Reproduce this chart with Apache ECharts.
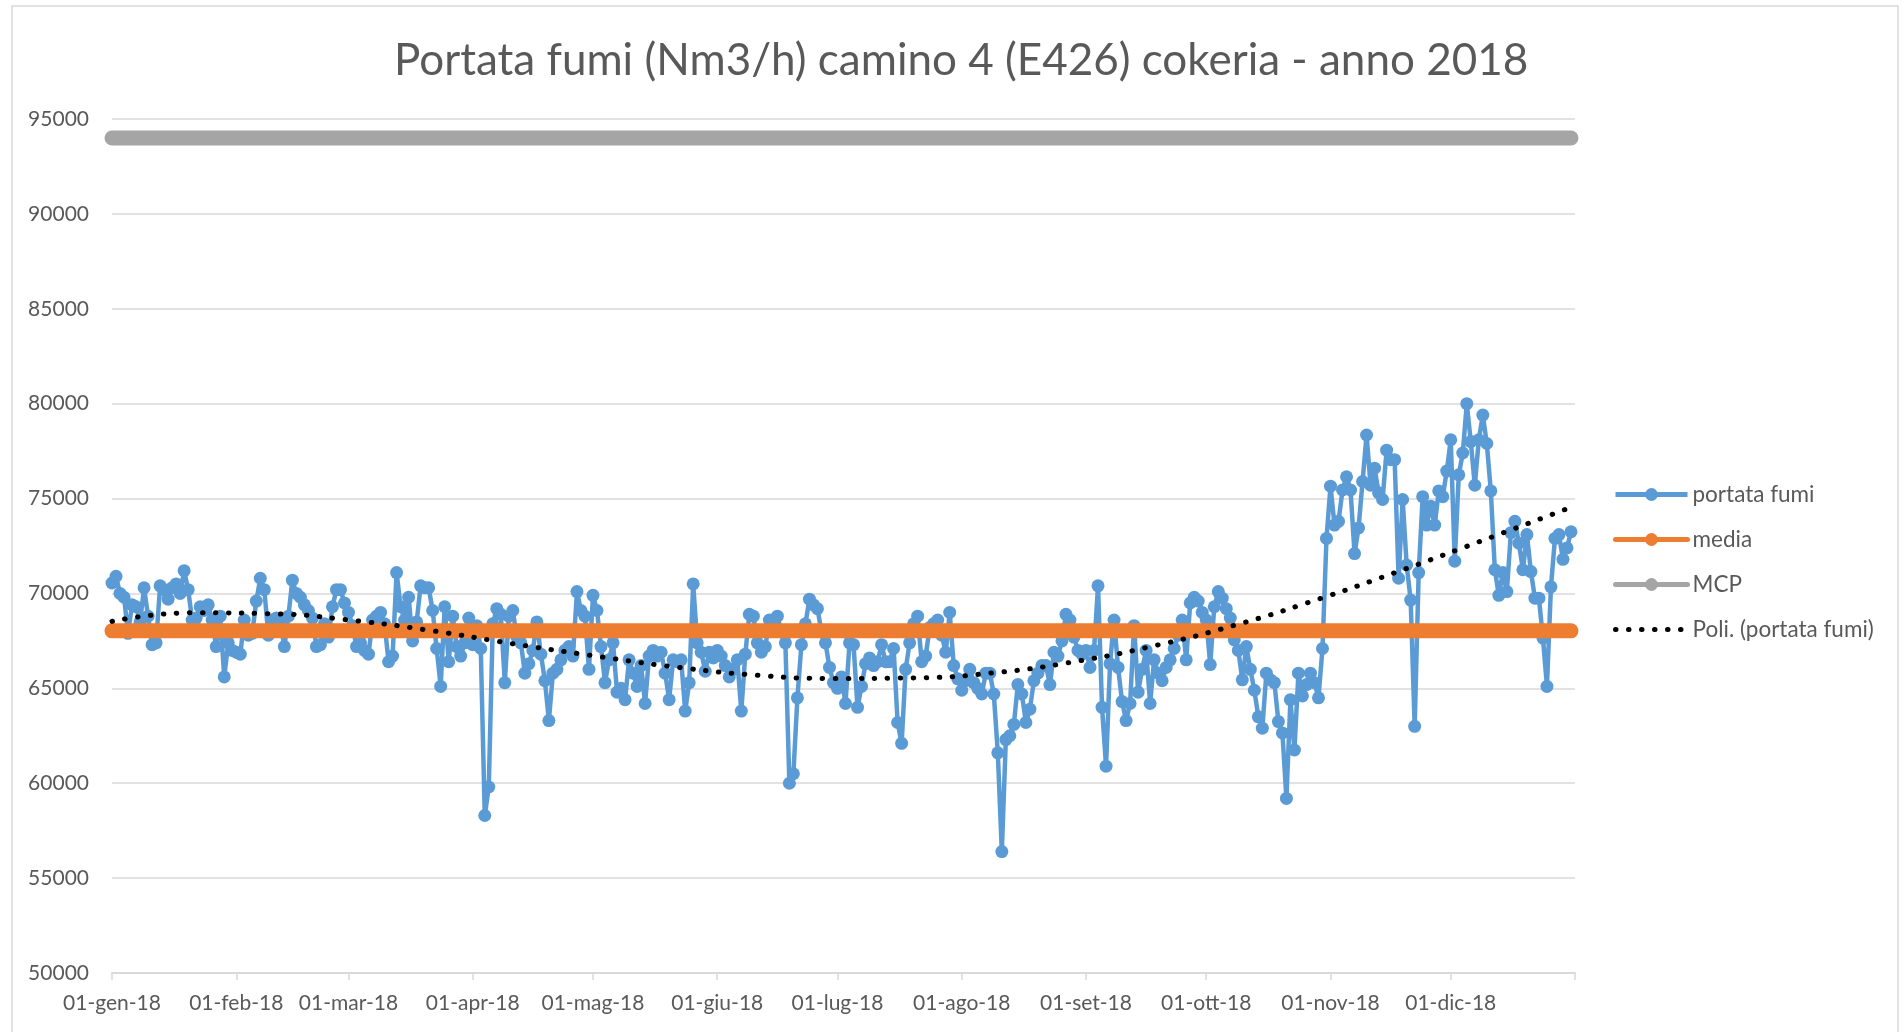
<!DOCTYPE html>
<html>
<head>
<meta charset="utf-8">
<title>Portata fumi camino 4 (E426) cokeria - anno 2018</title>
<script src="https://cdn.jsdelivr.net/npm/echarts@6/dist/echarts.min.js"></script>
<style>
  html, body { margin: 0; padding: 0; background: #fff; }
  #chart { width: 1904px; height: 1032px; }
</style>
</head>
<body>
<div id="chart"></div>
<script>
// mesi per le etichette dell'asse x
const mesi = ['gen', 'feb', 'mar', 'apr', 'mag', 'giu', 'lug', 'ago', 'set', 'ott', 'nov', 'dic']
const giorniMese = [31, 28, 31, 30, 31, 30, 31, 31, 30, 31, 30, 31]

// portata fumi giornaliera (Nm3/h)
const portataGen = [70550, 70900, 70000, 69800, 67900, 69400, 69300, 68500, 70300, 68800, 67300, 67400, 70400, 70200, 69700, 70300, 70500, 70000, 71200, 70200, 68600, 68700, 69300, 69100, 69400, 68600, 67200, 68800, 65600, 67400, 67000]
const portataFeb = [66900, 66800, 68600, 67800, 67900, 69600, 70800, 70200, 67800, 68600, 68700, 68500, 67200, 68800, 70700, 70000, 69800, 69400, 69100, 68700, 67200, 67300, 68400, 67700, 69300, 70200, 70200, 69500]
const portataMar = [69000, 68300, 67200, 67400, 67000, 66800, 68600, 68800, 69000, 68400, 66400, 66700, 71100, 69300, 68600, 69800, 67500, 68500, 70400, 70300, 70300, 69100, 67100, 65100, 69300, 66400, 68800, 67200, 66700, 67400, 68700]
const portataApr = [67300, 68300, 67100, 58300, 59800, 68400, 69200, 68900, 65300, 68800, 69100, 67700, 67400, 65800, 66300, 67000, 68500, 66800, 65400, 63300, 65800, 66000, 66500, 67000, 67200, 66700, 70100, 69100, 68800, 66000]
const portataMag = [69900, 69100, 67200, 65300, 66500, 67400, 64800, 65000, 64400, 66500, 65800, 65100, 66200, 64200, 66700, 67000, 66700, 66900, 65800, 64400, 66500, 66400, 66500, 63800, 65300, 70500, 67400, 66900, 65900, 66900, 66600]
const portataGiu = [67000, 66700, 66200, 65600, 66000, 66500, 63800, 66800, 68900, 68800, 67400, 66900, 67200, 68600, 68400, 68800, 68000, 67400, 60000, 60500, 64500, 67300, 68400, 69700, 69400, 69200, 68000, 67400, 66100, 65300]
const portataLug = [65000, 65600, 64200, 67400, 67300, 64000, 65100, 66300, 66600, 66200, 66400, 67300, 66400, 66400, 67100, 63200, 62100, 66000, 67400, 68400, 68800, 66400, 66700, 68200, 68400, 68600, 67800, 66900, 69000, 66200, 65500]
const portataAgo = [64900, 65400, 66000, 65300, 65000, 64700, 65800, 65800, 64700, 61600, 56400, 62300, 62500, 63100, 65200, 64700, 63200, 63900, 65400, 65800, 66200, 66200, 65200, 66900, 66700, 67500, 68900, 68600, 67700, 67000, 66800]
const portataSet = [67000, 66100, 67000, 70400, 64000, 60900, 66300, 68600, 66100, 64300, 63300, 64200, 68300, 64800, 66000, 67000, 64200, 66500, 65800, 65400, 66100, 66500, 67100, 67800, 68600, 66500, 69500, 69800, 69600, 69000]
const portataOtt = [68600, 66250, 69300, 70100, 69750, 69200, 68700, 67550, 67000, 65450, 67200, 66000, 64900, 63500, 62900, 65800, 65450, 65300, 63250, 62650, 59200, 64400, 61750, 65800, 64600, 65200, 65800, 65300, 64500, 67100, 72900]
const portataNov = [75650, 73600, 73800, 75450, 76150, 75450, 72100, 73450, 75900, 78350, 75700, 76600, 75300, 74950, 77550, 77050, 77050, 70800, 74950, 71500, 69650, 63000, 71100, 75100, 73600, 74600, 73600, 75400, 75100, 76450]
const portataDic = [78100, 71700, 76250, 77400, 80000, 78000, 75700, 78100, 79400, 77900, 75400, 71250, 69900, 71100, 70100, 73200, 73800, 72650, 71250, 73100, 71150, 69750, 69750, 67650, 65100, 70350, 72900, 73100, 71800, 72400, 73250]

// valori costanti
const MEDIA = 68030
const MCP = 94000

// linea di tendenza polinomiale, letta in alcuni giorni
const trendGiorni = [0, 20, 40, 60, 80, 100, 120, 140, 160, 180, 200, 220, 240, 260, 280, 300, 320, 340, 364]
const trendValori = [68530, 68980, 68930, 68580, 68030, 67350, 66720, 66140, 65710, 65520, 65550, 65820, 66400, 67240, 68320, 69630, 71090, 72640, 74540]

const portata = [].concat(portataGen, portataFeb, portataMar, portataApr, portataMag, portataGiu,
  portataLug, portataAgo, portataSet, portataOtt, portataNov, portataDic)

const categories = []
giorniMese.forEach((n, m) => {
  for (let d = 1; d <= n; d++) {
    categories.push(String(d).padStart(2, '0') + '-' + mesi[m] + '-18')
  }
})
categories.push('01-gen-19')

const media = portata.map(() => MEDIA)
const mcp = portata.map(() => MCP)
const trend = trendGiorni.map((g, i) => [g, trendValori[i]])

const FONT = 'Lato'
const TEXT_COLOR = '#595959'
const GRID_COLOR = '#d9d9d9'

const myChart = echarts.init(document.getElementById('chart'))

const option = {
  animation: false,
  backgroundColor: '#fff',
  title: {
    text: 'Portata fumi (Nm3/h) camino 4 (E426) cokeria - anno 2018',
    left: 389,
    top: 34,
    textStyle: {
      fontFamily: FONT,
      fontSize: 44,
      fontWeight: 'normal',
      color: TEXT_COLOR,
    },
  },
  graphic: [
    {
      type: 'rect',
      shape: { x: 12, y: 6, width: 1886, height: 1100 },
      style: { fill: 'none', stroke: GRID_COLOR, lineWidth: 1.5 },
      silent: true,
    },
  ],
  legend: {
    orient: 'vertical',
    left: 1608,
    top: 478,
    itemWidth: 72,
    itemHeight: 16,
    itemGap: 22,
    lineStyle: { width: 5 },
    textStyle: { fontFamily: FONT, fontSize: 22.5, color: TEXT_COLOR },
    data: [
      'portata fumi',
      'media',
      'MCP',
      { name: 'Poli. (portata fumi)', itemStyle: { opacity: 0 } },
    ],
  },
  grid: {
    left: 112,
    right: 329,
    top: 119,
    bottom: 59,
  },
  xAxis: {
    type: 'category',
    data: categories,
    boundaryGap: false,
    axisLine: { lineStyle: { color: GRID_COLOR, width: 2 } },
    axisTick: {
      show: true,
      length: 7,
      interval: (i, v) => v.startsWith('01-'),
      lineStyle: { color: GRID_COLOR, width: 1.5 },
    },
    axisLabel: {
      interval: (i, v) => i < 365 && v.startsWith('01-'),
      margin: 20,
      fontFamily: FONT,
      fontSize: 21,
      color: TEXT_COLOR,
    },
    splitLine: { show: false },
  },
  yAxis: {
    type: 'value',
    min: 50000,
    max: 95000,
    interval: 5000,
    axisLine: { show: false },
    axisTick: { show: false },
    axisLabel: {
      margin: 23,
      fontFamily: FONT,
      fontSize: 21,
      color: TEXT_COLOR,
      formatter: (v) => String(v),
    },
    splitLine: { lineStyle: { color: GRID_COLOR, width: 1.5 } },
  },
  series: [
    {
      name: 'portata fumi',
      type: 'line',
      data: portata,
      symbol: 'circle',
      symbolSize: 13,
      showAllSymbol: true,
      lineStyle: { color: '#5B9BD5', width: 4.5 },
      itemStyle: { color: '#5B9BD5' },
      emphasis: { disabled: true },
      z: 2,
    },
    {
      name: 'media',
      type: 'line',
      data: media,
      symbol: 'circle',
      symbolSize: 13,
      showSymbol: false,
      lineStyle: { color: '#ED7D31', width: 15, cap: 'round' },
      itemStyle: { color: '#ED7D31' },
      emphasis: { disabled: true },
      z: 3,
    },
    {
      name: 'MCP',
      type: 'line',
      data: mcp,
      symbol: 'circle',
      symbolSize: 13,
      showSymbol: false,
      lineStyle: { color: '#A5A5A5', width: 15, cap: 'round' },
      itemStyle: { color: '#A5A5A5' },
      emphasis: { disabled: true },
      z: 4,
    },
    {
      name: 'Poli. (portata fumi)',
      type: 'line',
      data: trend,
      smooth: true,
      symbol: 'none',
      lineStyle: { color: '#000', width: 5, type: [0.5, 12.5], cap: 'round' },
      itemStyle: { color: '#000' },
      emphasis: { disabled: true },
      z: 5,
    },
  ],
}

myChart.setOption(option)
</script>
</body>
</html>
